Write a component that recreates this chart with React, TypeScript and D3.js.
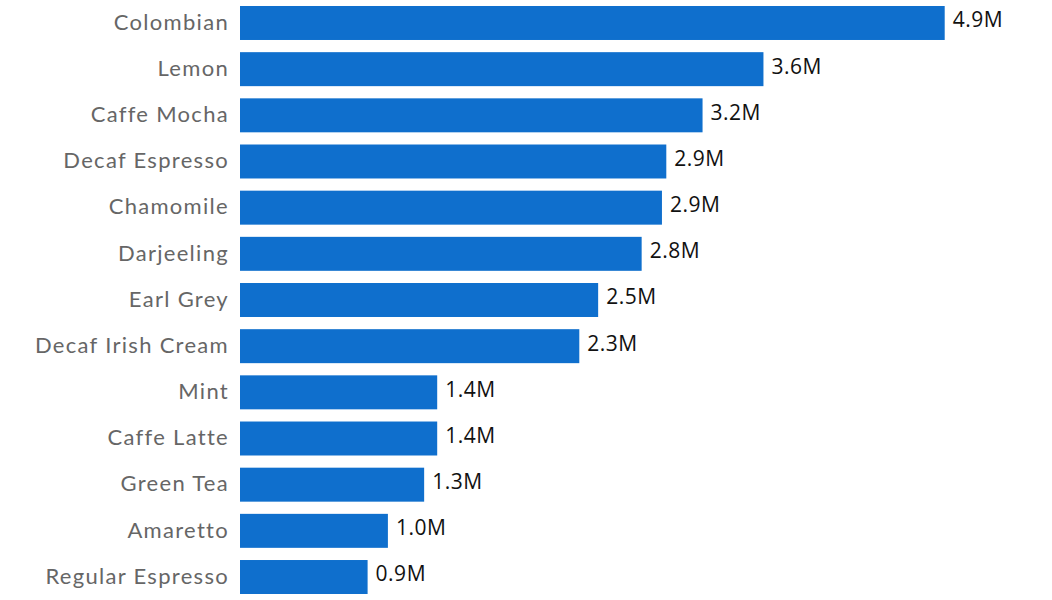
import React from "react";
import * as d3 from "d3";

const categories = [
  "Colombian",
  "Lemon",
  "Caffe Mocha",
  "Decaf Espresso",
  "Chamomile",
  "Darjeeling",
  "Earl Grey",
  "Decaf Irish Cream",
  "Mint",
  "Caffe Latte",
  "Green Tea",
  "Amaretto",
  "Regular Espresso",
];

const values = [
  4860000, 3610000, 3190000, 2940000, 2910000, 2770000, 2470000, 2340000,
  1360000, 1360000, 1270000, 1020000, 880000,
];

const W = 1052;
const H = 600;

export default function App() {
  const x = d3.scaleLinear().domain([0, 5000000]).range([240, 965]);
  const y = d3
    .scaleBand<string>()
    .domain(categories)
    .range([6, 594])
    .paddingInner(0.264)
    .paddingOuter(0);
  const fmt = (v: number) => (v / 1e6).toFixed(1) + "M";

  return (
    <svg
      width={W}
      height={H}
      style={{ position: "absolute", left: 0, top: 0, background: "#fff" }}
    >
      {categories.map((c, i) => {
        const yy = y(c)!;
        const bw = y.bandwidth();
        return (
          <g key={c}>
            <rect
              x={x(0)}
              y={yy}
              width={x(values[i]) - x(0)}
              height={bw}
              fill="#0f6fcd"
            />
            <text
              x={229}
              y={yy + bw / 2 - 1}
              dy="0.35em"
              textAnchor="end"
              fill="#666666"
              fontFamily="Lato, sans-serif"
              fontSize={22}
              letterSpacing={1.3}
            >
              {c}
            </text>
            <text
              x={x(values[i]) + 8}
              y={yy + bw / 2 - 3}
              dy="0.35em"
              fill="#111111"
              fontFamily="'Open Sans', sans-serif"
              fontSize={21}
              letterSpacing={0.5}
            >
              {fmt(values[i])}
            </text>
          </g>
        );
      })}
    </svg>
  );
}
